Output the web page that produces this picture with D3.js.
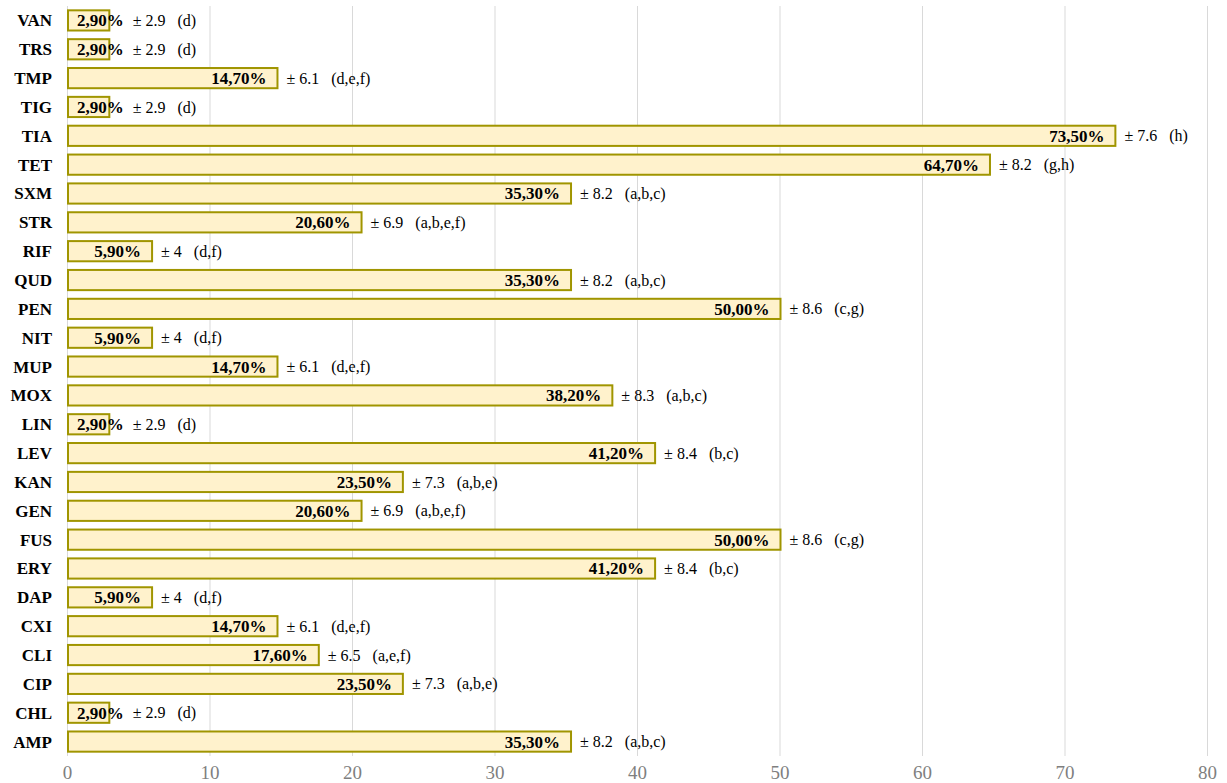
<!DOCTYPE html>
<html>
<head>
<meta charset="utf-8">
<script src="https://cdn.jsdelivr.net/npm/d3@7"></script>
<style>
  body { margin: 0; background: #fff; }
  text { font-family: "Liberation Serif", "Times New Roman", serif; }
</style>
</head>
<body>
<div id="svgcontainer"></div>
<script>
// antibiotics, top to bottom as shown
var categories = ["VAN","TRS","TMP","TIG","TIA","TET","SXM","STR","RIF","QUD","PEN","NIT","MUP",
                  "MOX","LIN","LEV","KAN","GEN","FUS","ERY","DAP","CXI","CLI","CIP","CHL","AMP"];
var values = [2.9,2.9,14.7,2.9,73.5,64.7,35.3,20.6,5.9,35.3,50.0,5.9,14.7,
              38.2,2.9,41.2,23.5,20.6,50.0,41.2,5.9,14.7,17.6,23.5,2.9,35.3];
var errors = ["2.9","2.9","6.1","2.9","7.6","8.2","8.2","6.9","4","8.2","8.6","4","6.1",
              "8.3","2.9","8.4","7.3","6.9","8.6","8.4","4","6.1","6.5","7.3","2.9","8.2"];
var groups = ["d","d","d,e,f","d","h","g,h","a,b,c","a,b,e,f","d,f","a,b,c","c,g","d,f","d,e,f",
              "a,b,c","d","b,c","a,b,e","a,b,e,f","c,g","b,c","d,f","d,e,f","a,e,f","a,b,e","d","a,b,c"];
var xTicks = [0,10,20,30,40,50,60,70,80];

var W = 1227, H = 783,
    margin = {top: 6, right: 20, bottom: 27, left: 67},
    width = 1207 - margin.left,
    height = 756 - margin.top;

var svg = d3.select("div#svgcontainer").append("svg")
    .attr("width", W).attr("height", H);
var g = svg.append("g").attr("transform", "translate(" + margin.left + "," + margin.top + ")");

var x = d3.scaleLinear().domain([0, 80]).range([0, width]);
var y = d3.scaleBand().domain(categories).range([0, height]).paddingInner(0.3).paddingOuter(0.15);

// gridlines
g.selectAll(".grid").data(xTicks).enter().append("line")
  .attr("x1", function(d){ return x(d) + 0.5 }).attr("x2", function(d){ return x(d) + 0.5 })
  .attr("y1", 0).attr("y2", height)
  .style("stroke", "#d9d9d9").style("stroke-width", 1);

// x axis labels
var xAxis = g.append("g")
  .attr("transform", "translate(0," + height + ")")
  .call(d3.axisBottom(x).tickValues(xTicks).tickSize(0).tickPadding(10));
xAxis.select(".domain").remove();
xAxis.selectAll("text")
  .style("font-family", "'Liberation Serif', 'Times New Roman', serif")
  .style("font-size", "19px").style("fill", "#7f7f7f");

// category labels
g.selectAll(".cat").data(categories).enter().append("text")
  .attr("x", -15)
  .attr("y", function(d){ return y(d) + y.bandwidth() / 2 })
  .attr("dy", "0.35em")
  .attr("text-anchor", "end")
  .style("font-weight", "bold").style("font-size", "17px").style("fill", "#000")
  .text(function(d){ return d });

var rows = categories.map(function(c, i){
  return {cat: c, v: values[i], err: errors[i], grp: groups[i]};
});

var row = g.selectAll(".row").data(rows).enter().append("g").attr("class", "row");

row.append("rect")
  .attr("x", x(0) + 1)
  .attr("y", function(d){ return y(d.cat) })
  .attr("width", function(d){ return x(d.v) - x(0) })
  .attr("height", y.bandwidth())
  .style("fill", "#fff2cc").style("stroke", "#a09500").style("stroke-width", 2);

row.each(function(d){
  var r = d3.select(this),
      cy = y(d.cat) + y.bandwidth() / 2;
  var lab = r.append("text")
    .attr("y", cy).attr("dy", "0.35em")
    .attr("text-anchor", "end")
    .style("font-weight", "bold").style("font-size", "17px").style("fill", "#000")
    .text(d3.format(".2f")(d.v).replace(".", ",") + "%");
  var w = lab.node().getComputedTextLength();
  var end = Math.max(x(d.v) - 10, x(0) + 10 + w);
  lab.attr("x", end);
  var ax = Math.max(x(d.v) + 1, end) + 9;
  var ann = r.append("text")
    .attr("x", ax).attr("y", cy).attr("dy", "0.35em")
    .style("font-size", "16px").style("fill", "#000");
  ann.append("tspan").text("\u00b1 " + d.err);
  ann.append("tspan").attr("dx", 12).text("(" + d.grp + ")");
});
</script>
</body>
</html>
